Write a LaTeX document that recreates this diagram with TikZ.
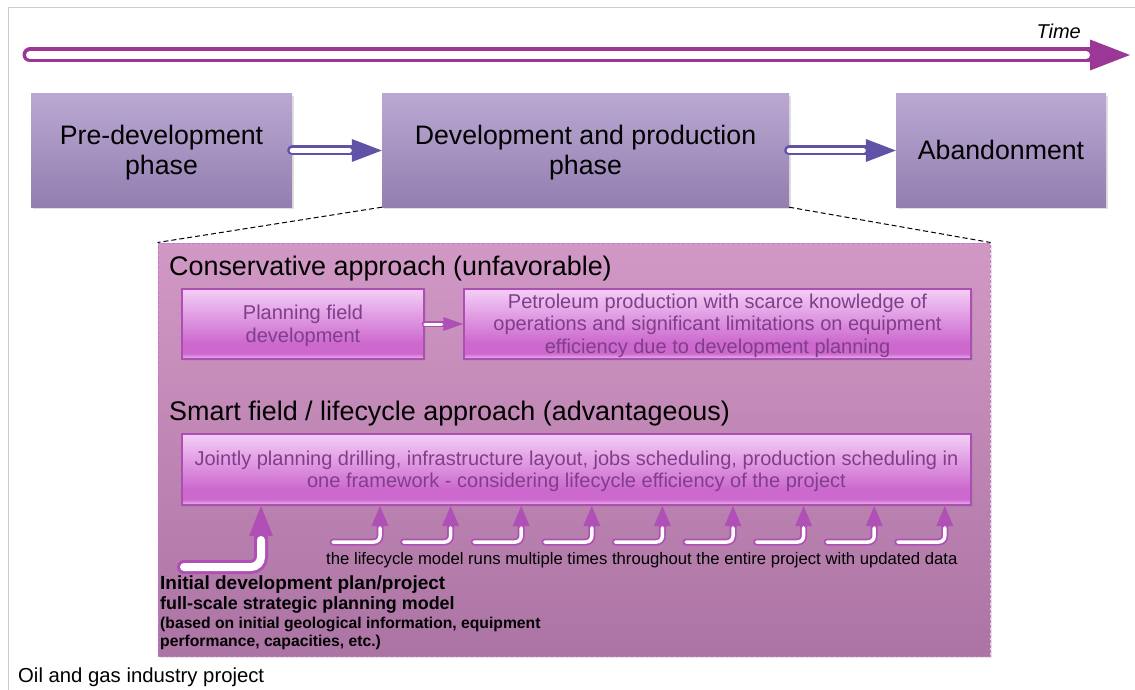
\documentclass[tikz,border=0pt]{standalone}
\usepackage{fontspec}
\setmainfont{Liberation Sans}
\usepackage{tikz}
\usetikzlibrary{arrows.meta}
\usetikzlibrary{shadows}
\usetikzlibrary{positioning}

\definecolor{timepurple}{RGB}{155,55,150}
\definecolor{phaseblue}{RGB}{96,82,166}
\definecolor{phasetop}{RGB}{186,168,210}
\definecolor{phasebot}{RGB}{146,126,176}
\definecolor{zonetop}{RGB}{210,152,197}
\definecolor{zonebot}{RGB}{172,116,164}
\definecolor{zoneline}{RGB}{196,120,200}
\definecolor{glosstop}{RGB}{244,206,247}
\definecolor{glossmid}{RGB}{204,104,206}
\definecolor{glossbot}{RGB}{238,188,240}
\definecolor{glossline}{RGB}{172,78,178}
\definecolor{glosstext}{RGB}{128,62,138}
\definecolor{flowpurple}{RGB}{176,80,182}
\definecolor{framegray}{RGB}{205,205,205}

\pgfdeclareverticalshading{gloss}{100bp}{color(0bp)=(glossbot); color(25bp)=(glossbot); color(29bp)=(glossmid); color(36bp)=(glossmid); color(75bp)=(glosstop); color(100bp)=(glosstop)}

% line box as in the slide: ascent and descent of the font
\newcommand{\linebox}{\rule[-0.212em]{0pt}{1.117em}}

\tikzset{
      phase/.style={top color=phasetop, bottom color=phasebot, minimum height=113, align=center,
            font=\fontsize{26.7}{30}\selectfont,
            drop shadow={shadow xshift=2pt, shadow yshift=-2pt, opacity=0.25}},
      zone/.style={top color=zonetop, bottom color=zonebot, draw=zoneline, dash pattern=on 3pt off 2pt, line width=1,
            drop shadow={shadow xshift=2pt, shadow yshift=-2pt, opacity=0.2}},
      glossbox/.style={shading=gloss, draw=glossline, line width=1.5, text=glosstext, align=center,
            font=\fontsize{20}{22.6}\selectfont,
            drop shadow={shadow xshift=1.5pt, shadow yshift=-1.5pt, opacity=0.2}},
      headline/.style={anchor=base west, font=\fontsize{26.9}{30}\selectfont},
      zoomline/.style={dash pattern=on 5pt off 3pt, line width=1},
      timeflow/.style={draw=timepurple, line width=15, line cap=round, -{Triangle[length=40pt,width=31pt,line width=0pt]},
            postaction={draw=white, line width=8, -, shorten >=44pt}},
      phaseflow/.style={draw=phaseblue, line width=10, line cap=round, -{Triangle[length=30pt,width=23pt,line width=0pt]},
            postaction={draw=white, line width=5, -, shorten >=32.5pt}},
      stepflow/.style={draw=flowpurple, line width=6, line cap=round, -{Triangle[length=20pt,width=14pt,line width=0pt]},
            postaction={draw=white, line width=3, -, shorten >=21.5pt}},
      bigflow/.style={draw=flowpurple, line width=14, line cap=round, rounded corners=10, -{Triangle[length=30pt,width=24pt,line width=0pt]},
            postaction={draw=white, line width=8, -, shorten >=34pt}},
      runflow/.style={draw=flowpurple, line width=7, line cap=round, rounded corners=6, -{Triangle[length=20pt,width=17pt,line width=0pt]},
            postaction={draw=white, line width=3.5, -, shorten >=21.8pt}},
}

\begin{document}
\begin{tikzpicture}[x=1pt, y=-1pt, every node/.style={inner sep=0}]
        \useasboundingbox (0,0) rectangle (1135,690);
        \draw[framegray] (8,690) -- (8,7) -- (1135,7);

        % Time axis
        \coordinate (tstart) at (30,55);
        \coordinate (tend) at (1130,55);
        \draw[timeflow] (tstart) -- (tend);
        \node[anchor=base east, font=\itshape\fontsize{20}{24}\selectfont] (time) at (1081,39) {Time};

        % Project phases
        \node[phase, minimum width=261] (pre) at (161.5,150.5) {\linebox Pre-development\\phase};
        \node[phase, minimum width=407] (dev) at (585.5,150.5) {\linebox Development and production\\phase};
        \node[phase, minimum width=210] (aban) at (1001,150.5) {\linebox Abandonment};
        \draw[phaseflow] (pre) -- (dev);
        \draw[phaseflow] (dev) -- (aban);

        % Zoom into development and production
        \node[zone, minimum width=832, minimum height=413] (zone) at (574,449.5) {};
        \draw[zoomline] (dev.south west) -- (zone.north west);
        \draw[zoomline] (dev.south east) -- (zone.north east);

        \node[headline] (cons) at (169,275.5) {Conservative approach (unfavorable)};
        \node[glossbox, minimum width=242, minimum height=70] (plan) at (303,324) {\linebox Planning field\\development};
        \node[glossbox, minimum width=507, minimum height=70] (petro) at (717.5,324)
            {\linebox Petroleum production with scarce knowledge of\\operations and significant limitations on equipment\\efficiency due to development planning};
        \draw[stepflow] (plan) -- (petro);

        \node[headline] (smart) at (169,420) {Smart field / lifecycle approach (advantageous)};
        \node[glossbox, minimum width=789, minimum height=71] (joint) at (576.5,469.5)
            {\linebox Jointly planning drilling, infrastructure layout, jobs scheduling, production scheduling in\\one framework - considering lifecycle efficiency of the project};

        % Initial plan and repeated runs
        \coordinate (init) at (184,567);
        \coordinate (initup) at (261,506);
        \draw[bigflow] (init) -| (initup);
        \foreach \i in {0,...,8}{
            \pgfmathsetmacro{\xr}{380+70.6*\i}
            \coordinate (run\i) at (\xr-47,542);
            \coordinate (hit\i) at (\xr,506);
            \draw[runflow] (run\i) -| (hit\i);
        }
        \node[anchor=base west, font=\fontsize{16.7}{20}\selectfont] (runs) at (326,564)
            {the lifecycle model runs multiple times throughout the entire project with updated data};

        \node[anchor=base west, font=\bfseries\fontsize{19}{22}\selectfont] (initial) at (160,589) {Initial development plan/project};
        \node[anchor=base west, font=\bfseries\fontsize{17.9}{21}\selectfont] (fullscale) at (160,609.5) {full-scale strategic planning model};
        \node[anchor=base west, font=\bfseries\fontsize{15.7}{18}\selectfont] (based) at (160,628) {(based on initial geological information, equipment};
        \node[anchor=base west, font=\bfseries\fontsize{15.7}{18}\selectfont] (perf) at (160,646.5) {performance, capacities, etc.)};

        \node[anchor=base west, font=\fontsize{20.3}{24}\selectfont] (oilgas) at (18,682) {Oil and gas industry project};

    \end{tikzpicture}
\end{document}
